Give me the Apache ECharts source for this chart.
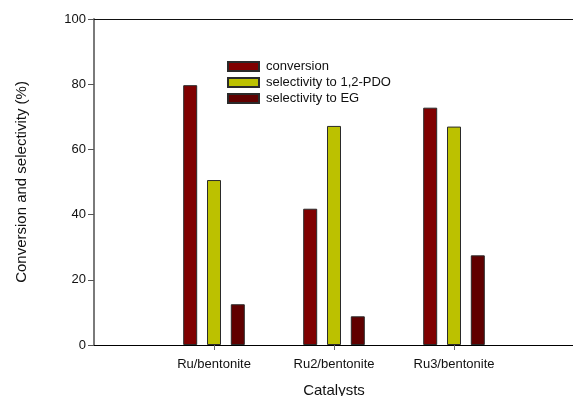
<!DOCTYPE html>
<html>
<head>
<meta charset="utf-8">
<script src="https://cdn.jsdelivr.net/npm/echarts@6/dist/echarts.min.js"></script>
<style>
html,body{margin:0;padding:0;background:#fff;}
#chart{width:573px;height:396px;}
</style>
</head>
<body>
<div id="chart"></div>
<script>
var categories = ['Ru/bentonite', 'Ru2/bentonite', 'Ru3/bentonite'];
var conversion = [79.7, 41.8, 72.8];
var selectivityPDO = [50.6, 67.2, 67.0];
var selectivityEG = [12.5, 8.8, 27.5];
var seriesNames = ['conversion', 'selectivity to 1,2-PDO', 'selectivity to EG'];
var yTicks = [0, 20, 40, 60, 80, 100];

var FONT = '"Liberation Sans", Arial, sans-serif';
var chart = echarts.init(document.getElementById('chart'), null, {renderer: 'canvas'});
var barBorder = {borderColor: '#2a2a2a', borderWidth: 1};

var option = {
  backgroundColor: '#ffffff',
  animation: false,
  textStyle: {fontFamily: FONT},
  grid: [
    {left: 94, top: 19, width: 520, bottom: 51, containLabel: false, outerBoundsMode: 'none'},
    {left: 154, top: 19, width: 360, bottom: 51, containLabel: false, outerBoundsMode: 'none'}
  ],
  legend: {
    orient: 'vertical',
    left: 222,
    top: 55,
    icon: 'rect',
    itemWidth: 31,
    itemHeight: 9,
    itemGap: 3,
    data: seriesNames,
    textStyle: {fontFamily: FONT, fontSize: 13, color: '#111', padding: [0, 0, 0, 2]}
  },
  xAxis: [
    {
      type: 'value', gridIndex: 0, min: 0, max: 1,
      axisLine: {show: true, onZero: false, lineStyle: {color: '#000', width: 1}},
      axisTick: {show: false}, axisLabel: {show: false}, splitLine: {show: false}
    },
    {
      type: 'value', gridIndex: 0, position: 'top', min: 0, max: 1,
      axisLine: {show: true, onZero: false, lineStyle: {color: '#111', width: 1}},
      axisTick: {show: false}, axisLabel: {show: false}, splitLine: {show: false}
    },
    {
      type: 'category', gridIndex: 1, data: categories,
      axisLine: {show: false},
      axisTick: {show: true, alignWithLabel: true, length: 5, lineStyle: {color: '#666'}},
      axisLabel: {fontFamily: FONT, fontSize: 13, color: '#111', margin: 13},
      name: 'Catalysts', nameLocation: 'middle', nameGap: 38,
      nameTextStyle: {fontFamily: FONT, fontSize: 15, color: '#111'}
    }
  ],
  yAxis: [
    {
      type: 'value', gridIndex: 0, min: 0, max: 100, interval: 20,
      axisLine: {show: true, lineStyle: {color: '#7a7a7a', width: 2}},
      axisTick: {show: true, length: 6, lineStyle: {color: '#555'}},
      axisLabel: {fontFamily: FONT, fontSize: 13, color: '#111', margin: 8,
        formatter: function (v) { return yTicks.indexOf(v) >= 0 ? String(v) : ''; }},
      splitLine: {show: false},
      name: 'Conversion and selectivity (%)', nameLocation: 'middle', nameGap: 65,
      nameTextStyle: {fontFamily: FONT, fontSize: 15, color: '#111'}
    },
    {
      type: 'value', gridIndex: 1, min: 0, max: 100, interval: 20, show: false
    }
  ],
  series: [
    {name: seriesNames[0], type: 'bar', xAxisIndex: 2, yAxisIndex: 1, data: conversion,
      barWidth: 14, barGap: '70%', itemStyle: Object.assign({color: '#800000'}, barBorder)},
    {name: seriesNames[1], type: 'bar', xAxisIndex: 2, yAxisIndex: 1, data: selectivityPDO,
      barWidth: 14, barGap: '70%', itemStyle: Object.assign({color: '#bcc100'}, barBorder)},
    {name: seriesNames[2], type: 'bar', xAxisIndex: 2, yAxisIndex: 1, data: selectivityEG,
      barWidth: 14, barGap: '70%', itemStyle: Object.assign({color: '#600000'}, barBorder)}
  ]
};
chart.setOption(option);
</script>
</body>
</html>
